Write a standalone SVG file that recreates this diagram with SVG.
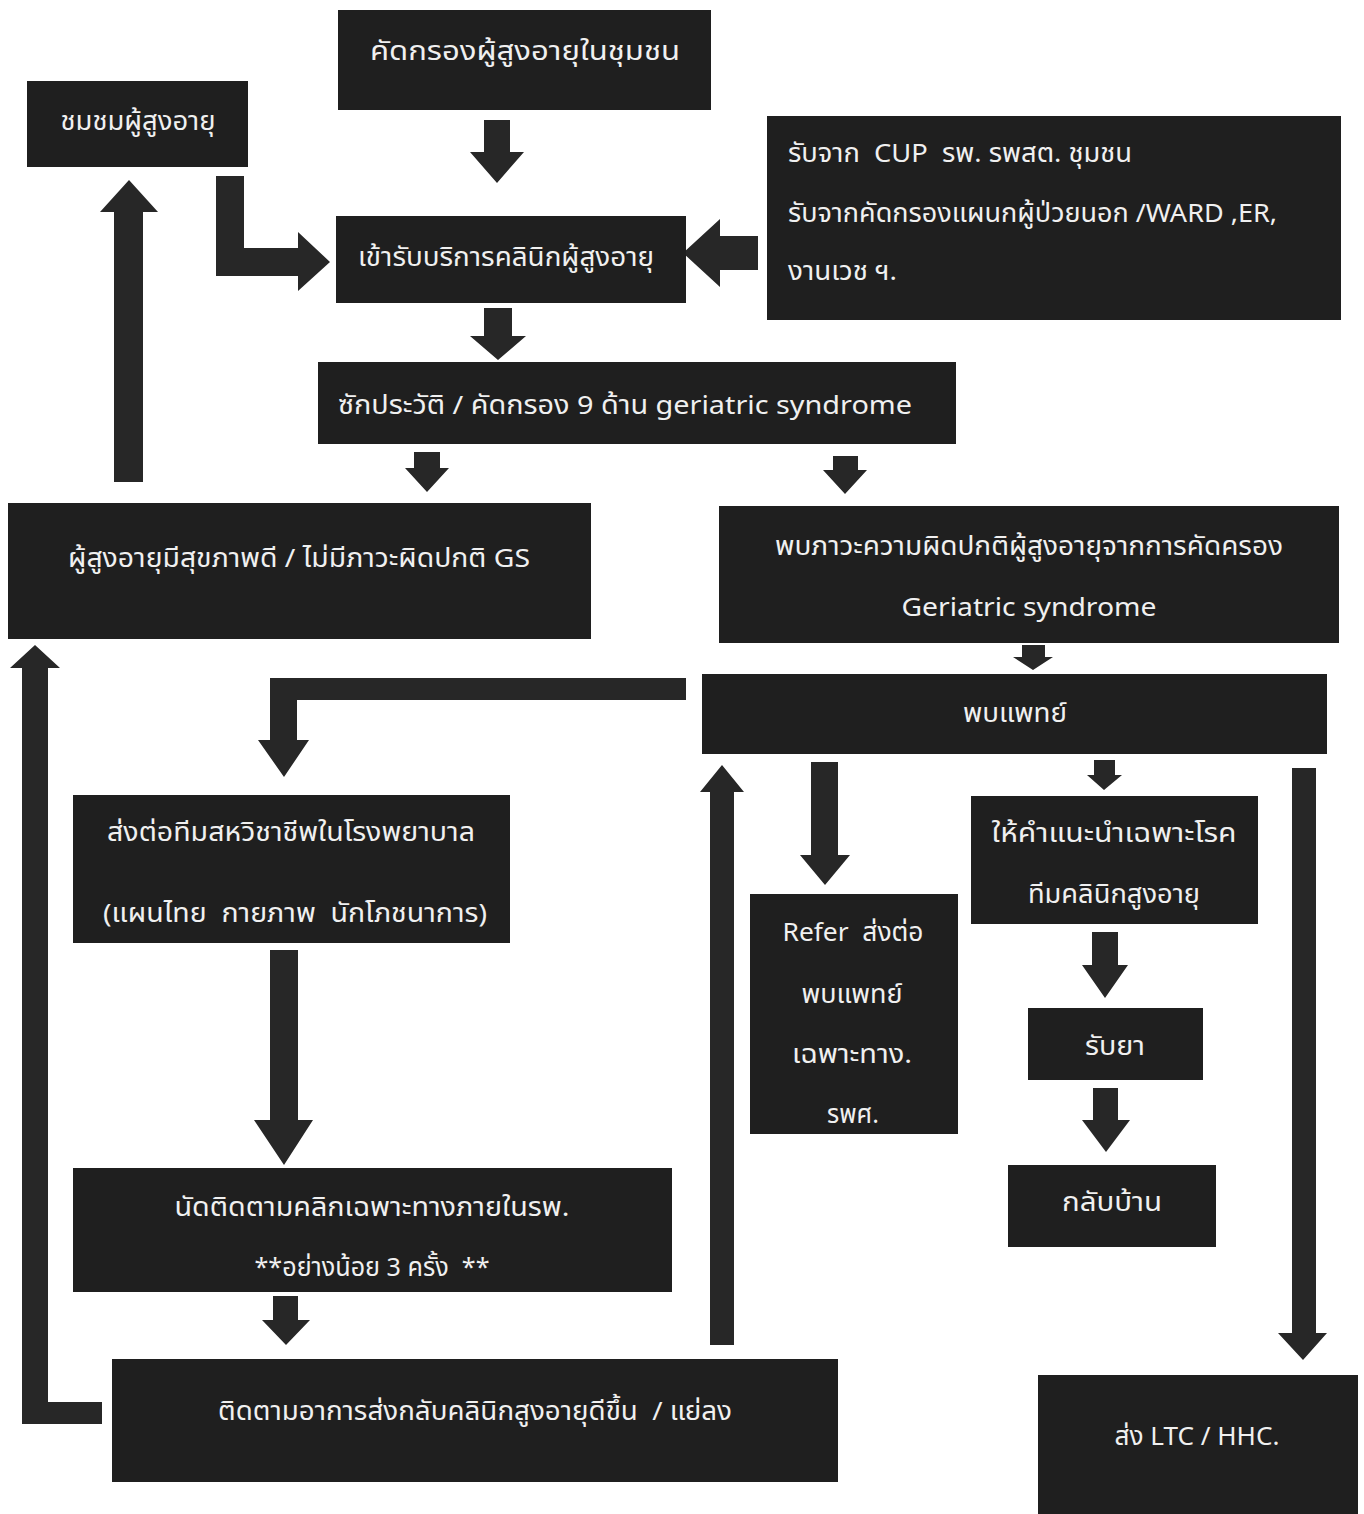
<svg xmlns="http://www.w3.org/2000/svg" width="1364" height="1514" viewBox="0 0 1364 1514">
<style>
.box{fill:#1f1f1f}
.arr{fill:#272727}
.t{fill:#f0f0f0;font-family:"Noto Sans","Noto Sans Thai","Liberation Sans",sans-serif;font-size:26px;dominant-baseline:central;white-space:pre}
.m{text-anchor:middle}
</style>
<rect width="1364" height="1514" fill="#ffffff"/>
<g id="connectors">
<polygon class="arr" points="484,120 510,120 510,152 524,152 497,183 470,152 484,152"/>
<polygon class="arr" points="216,176 244,176 244,248 298,248 298,232 330,262 298,291 298,276 216,276"/>
<polygon class="arr" points="758,236 758,270 720,270 720,287 683,253 720,219 720,236"/>
<polygon class="arr" points="484,308 512,308 512,336 526,336 498,360 470,336 484,336"/>
<polygon class="arr" points="414,452 440,452 440,468 449,468 427,492 405,468 414,468"/>
<polygon class="arr" points="833,456 858,456 858,470 867,470 845,494 823,470 833,470"/>
<polygon class="arr" points="114,482 143,482 143,212 158,212 129,180 100,212 114,212"/>
<polygon class="arr" points="1022,645 1045,645 1045,657 1053,657 1033,670 1013,657 1022,657"/>
<polygon class="arr" points="686,678 686,700 297,700 297,740 309,740 284,777 258,740 270,740 270,678"/>
<polygon class="arr" points="710,1345 734,1345 734,792 744,792 722,765 700,792 710,792"/>
<polygon class="arr" points="811,762 838,762 838,855 850,855 825,885 800,855 811,855"/>
<polygon class="arr" points="1094,760 1115,760 1115,775 1122,775 1104,790 1087,775 1094,775"/>
<polygon class="arr" points="1092,932 1118,932 1118,965 1128,965 1105,998 1082,965 1092,965"/>
<polygon class="arr" points="1093,1088 1118,1088 1118,1120 1130,1120 1106,1152 1082,1120 1093,1120"/>
<polygon class="arr" points="1292,768 1316,768 1316,1333 1327,1333 1303,1360 1278,1333 1292,1333"/>
<polygon class="arr" points="270,950 298,950 298,1120 313,1120 284,1165 254,1120 270,1120"/>
<polygon class="arr" points="273,1296 298,1296 298,1320 310,1320 286,1345 262,1320 273,1320"/>
<polygon class="arr" points="102,1402 102,1424 22,1424 22,668 10,668 35,645 60,668 48,668 48,1402"/>
</g>
<g id="n1"><rect class="box" x="338" y="10" width="373" height="100"/>
<text class="t m" x="525" y="50" textLength="310" lengthAdjust="spacingAndGlyphs">คัดกรองผู้สูงอายุในชุมชน</text></g>
<g id="n2"><rect class="box" x="27" y="81" width="221" height="86"/>
<text class="t m" x="138" y="120" textLength="155" lengthAdjust="spacingAndGlyphs">ชมชมผู้สูงอายุ</text></g>
<g id="n3"><rect class="box" x="767" y="116" width="574" height="204"/>
<text class="t" x="788" y="152" textLength="344" lengthAdjust="spacingAndGlyphs">รับจาก  CUP  รพ. รพสต. ชุมชน</text>
<text class="t" x="788" y="212" textLength="489" lengthAdjust="spacingAndGlyphs">รับจากคัดกรองแผนกผู้ป่วยนอก /WARD ,ER,</text>
<text class="t" x="788" y="270" textLength="109" lengthAdjust="spacingAndGlyphs">งานเวช ฯ.</text></g>
<g id="n4"><rect class="box" x="336" y="216" width="350" height="87"/>
<text class="t m" x="506" y="256" textLength="296" lengthAdjust="spacingAndGlyphs">เข้ารับบริการคลินิกผู้สูงอายุ</text></g>
<g id="n5"><rect class="box" x="318" y="362" width="638" height="82"/>
<text class="t m" x="625" y="404" textLength="574" lengthAdjust="spacingAndGlyphs">ซักประวัติ / คัดกรอง 9 ด้าน geriatric syndrome</text></g>
<g id="n6"><rect class="box" x="8" y="503" width="583" height="136"/>
<text class="t m" x="299" y="557" textLength="462" lengthAdjust="spacingAndGlyphs">ผู้สูงอายุมีสุขภาพดี / ไม่มีภาวะผิดปกติ GS</text></g>
<g id="n7"><rect class="box" x="719" y="506" width="620" height="137"/>
<text class="t m" x="1029" y="545" textLength="508" lengthAdjust="spacingAndGlyphs">พบภาวะความผิดปกติผู้สูงอายุจากการคัดครอง</text>
<text class="t m" x="1029" y="606" textLength="255" lengthAdjust="spacingAndGlyphs">Geriatric syndrome</text></g>
<g id="n8"><rect class="box" x="702" y="674" width="625" height="80"/>
<text class="t m" x="1015" y="712" textLength="104" lengthAdjust="spacingAndGlyphs">พบแพทย์</text></g>
<g id="n9"><rect class="box" x="73" y="795" width="437" height="148"/>
<text class="t m" x="291" y="831" textLength="368" lengthAdjust="spacingAndGlyphs">ส่งต่อทีมสหวิชาชีพในโรงพยาบาล</text>
<text class="t m" x="295" y="912" textLength="384" lengthAdjust="spacingAndGlyphs">(แผนไทย  กายภาพ  นักโภชนาการ)</text></g>
<g id="n10"><rect class="box" x="750" y="894" width="208" height="240"/>
<text class="t m" x="853" y="931" textLength="141" lengthAdjust="spacingAndGlyphs">Refer  ส่งต่อ</text>
<text class="t m" x="852" y="993" textLength="101" lengthAdjust="spacingAndGlyphs">พบแพทย์</text>
<text class="t m" x="852" y="1053" textLength="120" lengthAdjust="spacingAndGlyphs">เฉพาะทาง.</text>
<text class="t m" x="853" y="1113" textLength="52" lengthAdjust="spacingAndGlyphs">รพศ.</text></g>
<g id="n11"><rect class="box" x="971" y="796" width="287" height="128"/>
<text class="t m" x="1114" y="832" textLength="245" lengthAdjust="spacingAndGlyphs">ให้คำแนะนำเฉพาะโรค</text>
<text class="t m" x="1114" y="893" textLength="172" lengthAdjust="spacingAndGlyphs">ทีมคลินิกสูงอายุ</text></g>
<g id="n12"><rect class="box" x="1028" y="1008" width="175" height="72"/>
<text class="t m" x="1115" y="1045" textLength="60" lengthAdjust="spacingAndGlyphs">รับยา</text></g>
<g id="n13"><rect class="box" x="1008" y="1165" width="208" height="82"/>
<text class="t m" x="1112" y="1201" textLength="100" lengthAdjust="spacingAndGlyphs">กลับบ้าน</text></g>
<g id="n14"><rect class="box" x="73" y="1168" width="599" height="124"/>
<text class="t m" x="372" y="1206" textLength="395" lengthAdjust="spacingAndGlyphs">นัดติดตามคลิกเฉพาะทางภายในรพ.</text>
<text class="t m" x="372" y="1266" textLength="235" lengthAdjust="spacingAndGlyphs">**อย่างน้อย 3 ครั้ง  **</text></g>
<g id="n15"><rect class="box" x="112" y="1359" width="726" height="123"/>
<text class="t m" x="475" y="1410" textLength="514" lengthAdjust="spacingAndGlyphs">ติดตามอาการส่งกลับคลินิกสูงอายุดีขึ้น  / แย่ลง</text></g>
<g id="n16"><rect class="box" x="1038" y="1375" width="320" height="139"/>
<text class="t m" x="1197" y="1435" textLength="165" lengthAdjust="spacingAndGlyphs">ส่ง LTC / HHC.</text></g>
</svg>
